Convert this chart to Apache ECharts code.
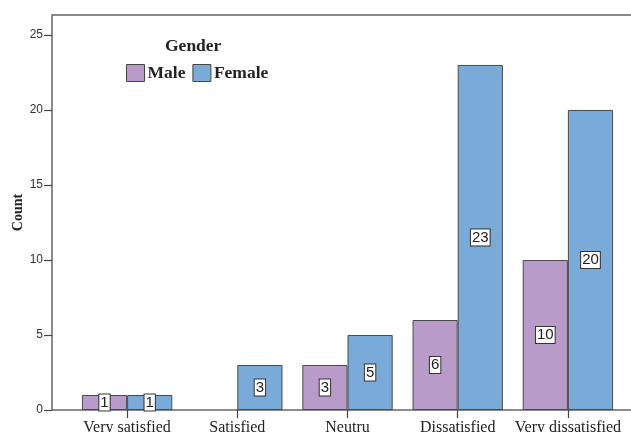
<!DOCTYPE html>
<html><head><meta charset="utf-8">
<script src="https://cdn.jsdelivr.net/npm/echarts@6/dist/echarts.min.js"></script>
<style>html,body{margin:0;padding:0;background:#fff}#c{width:631px;height:432px}</style>
</head><body><div id="c"></div>
<script>
const categories = ['Very satisfied','Satisfied','Neutru','Dissatisfied','Very dissatisfied'];
const maleCounts = [1, 0, 3, 6, 10];
const femaleCounts = [1, 3, 5, 23, 20];
const yTicks = [0, 5, 10, 15, 20, 25];

const chart = echarts.init(document.getElementById('c'));
const lbl = {
  show: true, position: 'inside', color: '#222', fontFamily: 'Liberation Sans, Arial', fontSize: 15,
  backgroundColor: '#fff', borderColor: '#333', borderWidth: 1, padding: [1, 1, 0, 1], lineHeight: 15
};
const mk = arr => arr.map(v => v === 0 ? {value: v, label: {show: false}, itemStyle: {color: 'transparent', borderWidth: 0}} : v);
chart.setOption({
  animation: false,
  title: {text: 'Gender', left: 165, top: 37, padding: 0, textStyle: {fontFamily: 'Liberation Serif, Times New Roman', fontWeight: 'bold', fontSize: 17.5, color: '#222'}},
  legend: {
    left: 126, top: 64, padding: 0, itemWidth: 18, itemHeight: 17, itemGap: 7, icon: 'rect',
    itemStyle: {borderColor: '#444', borderWidth: 1},
    textStyle: {fontFamily: 'Liberation Serif, Times New Roman', fontWeight: 'bold', fontSize: 17.5, color: '#222', padding: [0, 0, 0, -2]},
    data: ['Male', 'Female']
  },
  grid: [
    {left: 72, right: 8, top: 15, bottom: 22, outerBoundsMode: 'none', containLabel: false},
    {left: 52, top: 15, width: 640, bottom: 22, outerBoundsMode: 'none', containLabel: false, show: true, borderColor: '#666', borderWidth: 1.5, backgroundColor: 'transparent'}
  ],
  xAxis: [
    {type: 'category', gridIndex: 0, data: categories,
     axisLine: {show: false},
     axisTick: {show: true, alignWithLabel: true, length: 8, lineStyle: {color: '#444', width: 1.2}},
     axisLabel: {margin: 10, interval: 0, color: '#222', fontFamily: 'Liberation Serif, Times New Roman', fontSize: 16}},
    {type: 'value', gridIndex: 1, show: false}
  ],
  yAxis: [
    {type: 'value', gridIndex: 0, min: 0, max: 26.33, interval: 5, offset: 20,
     name: 'Count', nameLocation: 'middle', nameGap: 27, nameRotate: 90, nameMoveOverlap: false,
     nameTextStyle: {fontFamily: 'Liberation Serif, Times New Roman', fontWeight: 'bold', fontSize: 14, color: '#222'},
     axisLine: {show: false}, splitLine: {show: false},
     axisTick: {show: true, length: 8, customValues: yTicks, lineStyle: {color: '#444', width: 1.2}},
     axisLabel: {margin: 9, color: '#333', fontFamily: 'Liberation Sans, Arial', fontSize: 12, customValues: yTicks}},
    {type: 'value', gridIndex: 1, show: false}
  ],
  series: [
    {name: 'Male', type: 'bar', xAxisIndex: 0, yAxisIndex: 0, data: mk(maleCounts), barGap: '0%', barCategoryGap: '18%',
     itemStyle: {color: '#B89BC9', borderColor: '#4a4a4a', borderWidth: 1}, label: lbl},
    {name: 'Female', type: 'bar', xAxisIndex: 0, yAxisIndex: 0, data: mk(femaleCounts), barGap: '0%', barCategoryGap: '18%',
     itemStyle: {color: '#7AAAD8', borderColor: '#4a4a4a', borderWidth: 1}, label: lbl}
  ]
});
</script></body></html>
